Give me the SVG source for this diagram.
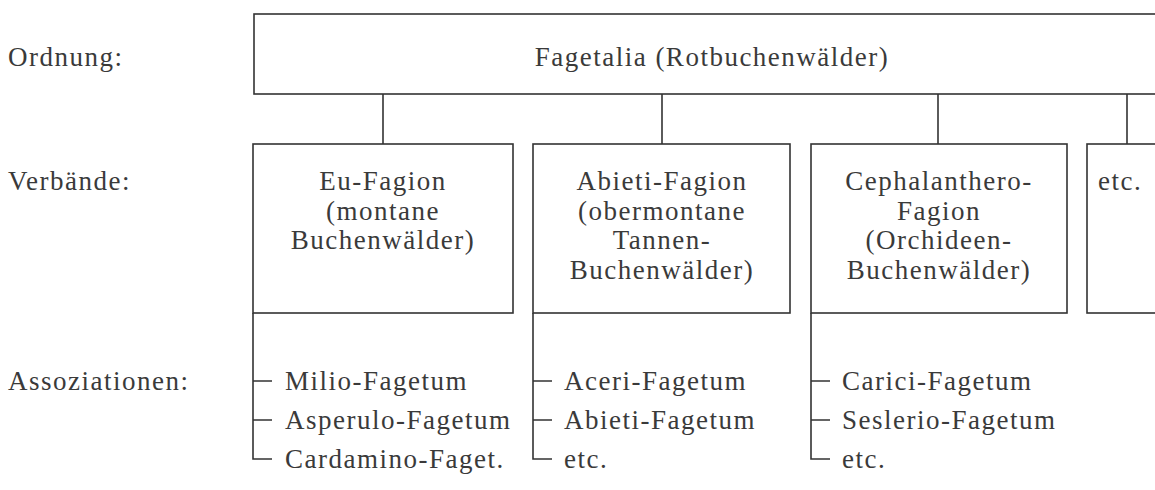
<svg xmlns="http://www.w3.org/2000/svg" width="1155" height="490" viewBox="0 0 1155 490">
<style>
text{font-family:"Liberation Serif","Times New Roman",serif;font-size:27px;fill:#3a3a3a;letter-spacing:1.5px}
.c{text-anchor:middle}
.b{fill:#fff;stroke:#333;stroke-width:1.6}
.l{stroke:#333;stroke-width:1.6;fill:none}
</style>
<rect width="1155" height="490" fill="#fff"/>
<g id="labels">
<text x="8" y="66">Ordnung:</text>
<text x="8" y="190">Verbände:</text>
<text x="8" y="390">Assoziationen:</text>
</g>
<g id="connectors">
<line class="l" x1="383" y1="94" x2="383" y2="144"/>
<line class="l" x1="662" y1="94" x2="662" y2="144"/>
<line class="l" x1="938" y1="94" x2="938" y2="144"/>
<line class="l" x1="1127" y1="94" x2="1127" y2="144"/>
<path class="l" d="M253 313V459H272M253 381H272M253 420H272"/>
<path class="l" d="M533 313V459H552M533 381H552M533 420H552"/>
<path class="l" d="M811 313V459H830M811 381H830M811 420H830"/>
</g>
<g id="order">
<rect class="b" x="254" y="14" width="920" height="80"/>
<text class="c" x="712" y="66">Fagetalia (Rotbuchenwälder)</text>
</g>
<g id="eu-fagion">
<rect class="b" x="253" y="144" width="260" height="169"/>
<text class="c" x="383" y="190">Eu-Fagion</text>
<text class="c" x="383" y="219.5">(montane</text>
<text class="c" x="383" y="249">Buchenwälder)</text>
</g>
<g id="abieti-fagion">
<rect class="b" x="533" y="144" width="257" height="169"/>
<text class="c" x="662" y="190">Abieti-Fagion</text>
<text class="c" x="662" y="219.5">(obermontane</text>
<text class="c" x="662" y="249">Tannen-</text>
<text class="c" x="662" y="278.5">Buchenwälder)</text>
</g>
<g id="cephalanthero-fagion">
<rect class="b" x="811" y="144" width="256" height="169"/>
<text class="c" x="939" y="190">Cephalanthero-</text>
<text class="c" x="939" y="219.5">Fagion</text>
<text class="c" x="939" y="249">(Orchideen-</text>
<text class="c" x="939" y="278.5">Buchenwälder)</text>
</g>
<g id="etc-verband">
<rect class="b" x="1087" y="144" width="90" height="169"/>
<text x="1098" y="190">etc.</text>
</g>
<g id="assoc-eu">
<text x="285" y="390">Milio-Fagetum</text>
<text x="285" y="429">Asperulo-Fagetum</text>
<text x="285" y="468">Cardamino-Faget.</text>
</g>
<g id="assoc-abieti">
<text x="564" y="390">Aceri-Fagetum</text>
<text x="564" y="429">Abieti-Fagetum</text>
<text x="564" y="468">etc.</text>
</g>
<g id="assoc-cephal">
<text x="842" y="390">Carici-Fagetum</text>
<text x="842" y="429">Seslerio-Fagetum</text>
<text x="842" y="468">etc.</text>
</g>
</svg>
